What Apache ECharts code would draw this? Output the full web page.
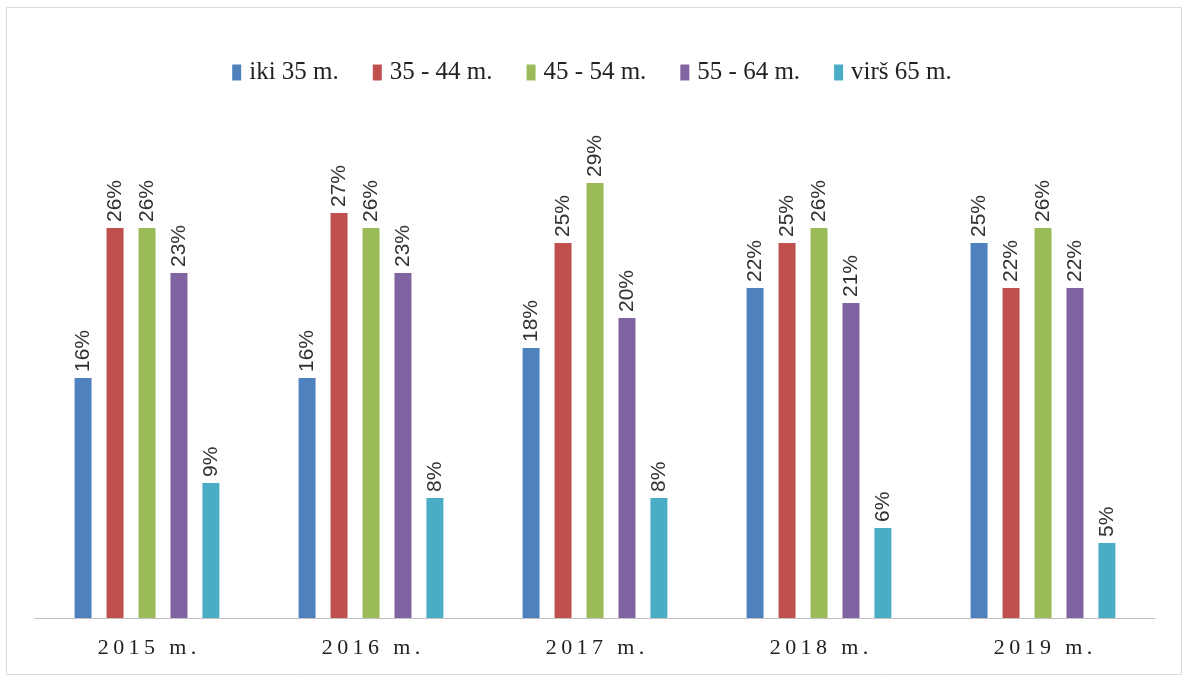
<!DOCTYPE html>
<html><head><meta charset="utf-8">
<script src="https://cdn.jsdelivr.net/npm/echarts@6/dist/echarts.min.js"></script>
<style>html,body{margin:0;padding:0;background:#fff}#c{width:1184px;height:678px}</style>
</head><body><div id="c"></div>
<script>
const categories = ['2015 m.', '2016 m.', '2017 m.', '2018 m.', '2019 m.'];
const seriesNames = ['iki 35 m.', '35 - 44 m.', '45 - 54 m.', '55 - 64 m.', 'virš 65 m.'];
const iki35 = [16, 16, 18, 22, 25];
const m35_44 = [26, 27, 25, 25, 22];
const m45_54 = [26, 26, 29, 26, 26];
const m55_64 = [23, 23, 20, 21, 22];
const virs65 = [9, 8, 8, 6, 5];
const colors = ['#4F81BD', '#C0504D', '#9BBB59', '#8064A2', '#4BACC6'];
const allData = [iki35, m35_44, m45_54, m55_64, virs65];

const chart = echarts.init(document.getElementById('c'));
chart.setOption({
  animation: false,
  graphic: [{type: 'rect', shape: {x: 6.5, y: 7.5, width: 1175, height: 667}, style: {fill: 'none', stroke: '#d9d9d9', lineWidth: 1}}],
  legend: {
    top: 55, left: 'center',
    itemWidth: 9, itemHeight: 16, itemGap: 34,
    icon: 'rect',
    textStyle: {fontFamily: 'Liberation Serif', fontSize: 25, color: '#222', padding: [0, 0, 0, 3]},
    data: seriesNames
  },
  grid: {left: 35, right: 29, top: 108, bottom: 60, containLabel: false},
  xAxis: {
    type: 'category', data: categories,
    axisLine: {lineStyle: {color: '#bfbfbf'}},
    axisTick: {show: false},
    axisLabel: {
      fontFamily: 'Liberation Serif', fontSize: 22, color: '#222', margin: 19,
      formatter: v => v.split('').join('\u2009')
    }
  },
  yAxis: {type: 'value', min: 0, max: 34, show: false, splitLine: {show: false}},
  series: seriesNames.map((n, i) => ({
    name: n, type: 'bar', data: allData[i],
    barWidth: 17, barGap: '88%', barCategoryGap: '35%',
    itemStyle: {color: colors[i]},
    label: {
      show: true, position: 'top', rotate: 90, align: 'left', verticalAlign: 'middle',
      distance: 6, formatter: '{c}%',
      fontFamily: 'Liberation Sans', fontSize: 21, color: '#333'
    }
  }))
});
</script></body></html>
